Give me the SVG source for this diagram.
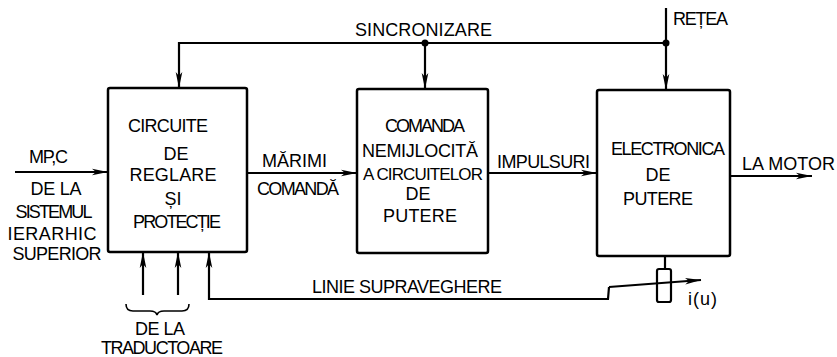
<svg xmlns="http://www.w3.org/2000/svg" width="837" height="357" viewBox="0 0 837 357">
<style>
.b{fill:#fff;stroke:#000;stroke-width:2.5}
.l{fill:none;stroke:#000;stroke-width:2.2}
.a{marker-end:url(#ar)}
text{font-family:"Liberation Sans",Arial,sans-serif;font-size:18px;fill:#000}
.m{text-anchor:middle}
</style>
<defs>
<marker id="ar" markerUnits="userSpaceOnUse" markerWidth="17" markerHeight="9" refX="16" refY="4.5" orient="auto">
<path d="M0,1.2 L16,4.5 L0,7.8 L4,4.5 z" fill="#000"/>
</marker>
</defs>
<rect width="837" height="357" fill="#fff"/>
<g id="connectors">
<path class="l a" d="M666,43 H179 V88"/>
<path class="l a" d="M425,43 V89"/>
<path class="l a" d="M666,8 V90"/>
<circle cx="425" cy="43" r="3.5"/>
<circle cx="666" cy="43" r="3.5"/>
<path class="l a" d="M15,172 H108"/>
<path class="l a" d="M247,173 H357"/>
<path class="l a" d="M489,173 H597"/>
<path class="l a" d="M730,176 H812"/>
<path class="l a" d="M143,295 V252"/>
<path class="l a" d="M178,295 V252"/>
<path class="l a" d="M609,287 L608,299 H209 V252"/>
<path class="l" d="M665,256 V269"/>
<rect x="657" y="269" width="14" height="33" rx="2" class="l"/>
<path class="l a" d="M609,287 L701,280"/>
<path class="l" d="M126,304 Q126,311 133,311 L150,311 Q156,311 157,315 Q158,311 164,311 L182,311 Q189,311 189,304" style="stroke-width:1.6"/>
</g>
<g id="box1">
<rect class="b" x="108" y="88" width="139" height="164" rx="2"/>
<text class="m" x="168" y="132" textLength="80">CIRCUITE</text>
<text class="m" x="176" y="160">DE</text>
<text class="m" x="173" y="181" textLength="87">REGLARE</text>
<text class="m" x="173" y="205">ȘI</text>
<text class="m" x="177" y="228" textLength="88">PROTECȚIE</text>
</g>
<g id="box2">
<rect class="b" x="357" y="89" width="131" height="164" rx="2"/>
<text class="m" x="425" y="132" textLength="80">COMANDA</text>
<text class="m" x="420" y="157" textLength="116">NEMIJLOCITĂ</text>
<text class="m" x="423" y="180" textLength="120" style="font-size:17px">A CIRCUITELOR</text>
<text class="m" x="418" y="200">DE</text>
<text class="m" x="420" y="222" textLength="74">PUTERE</text>
</g>
<g id="box3">
<rect class="b" x="597" y="90" width="133" height="166" rx="2"/>
<text class="m" x="668" y="155" textLength="114">ELECTRONICA</text>
<text class="m" x="658" y="181">DE</text>
<text class="m" x="658" y="205" textLength="70">PUTERE</text>
</g>
<g id="labels">
<text class="m" x="423.5" y="36" textLength="137">SINCRONIZARE</text>
<text x="673" y="25" textLength="55">REȚEA</text>
<text x="29" y="163" textLength="39">MP,C</text>
<text class="m" x="56" y="195" textLength="51">DE LA</text>
<text class="m" x="54" y="218" textLength="77">SISTEMUL</text>
<text class="m" x="52" y="240" textLength="89">IERARHIC</text>
<text class="m" x="57" y="260" textLength="89">SUPERIOR</text>
<text x="262" y="167" textLength="65">MĂRIMI</text>
<text x="257" y="195" textLength="82">COMANDĂ</text>
<text x="497" y="168" textLength="93">IMPULSURI</text>
<text x="742" y="170" textLength="93">LA MOTOR</text>
<text x="312" y="293" textLength="190">LINIE SUPRAVEGHERE</text>
<text x="688" y="305" textLength="29">i(u)</text>
<text class="m" x="160" y="335" textLength="50">DE LA</text>
<text class="m" x="162" y="354" textLength="122">TRADUCTOARE</text>
</g>
</svg>
